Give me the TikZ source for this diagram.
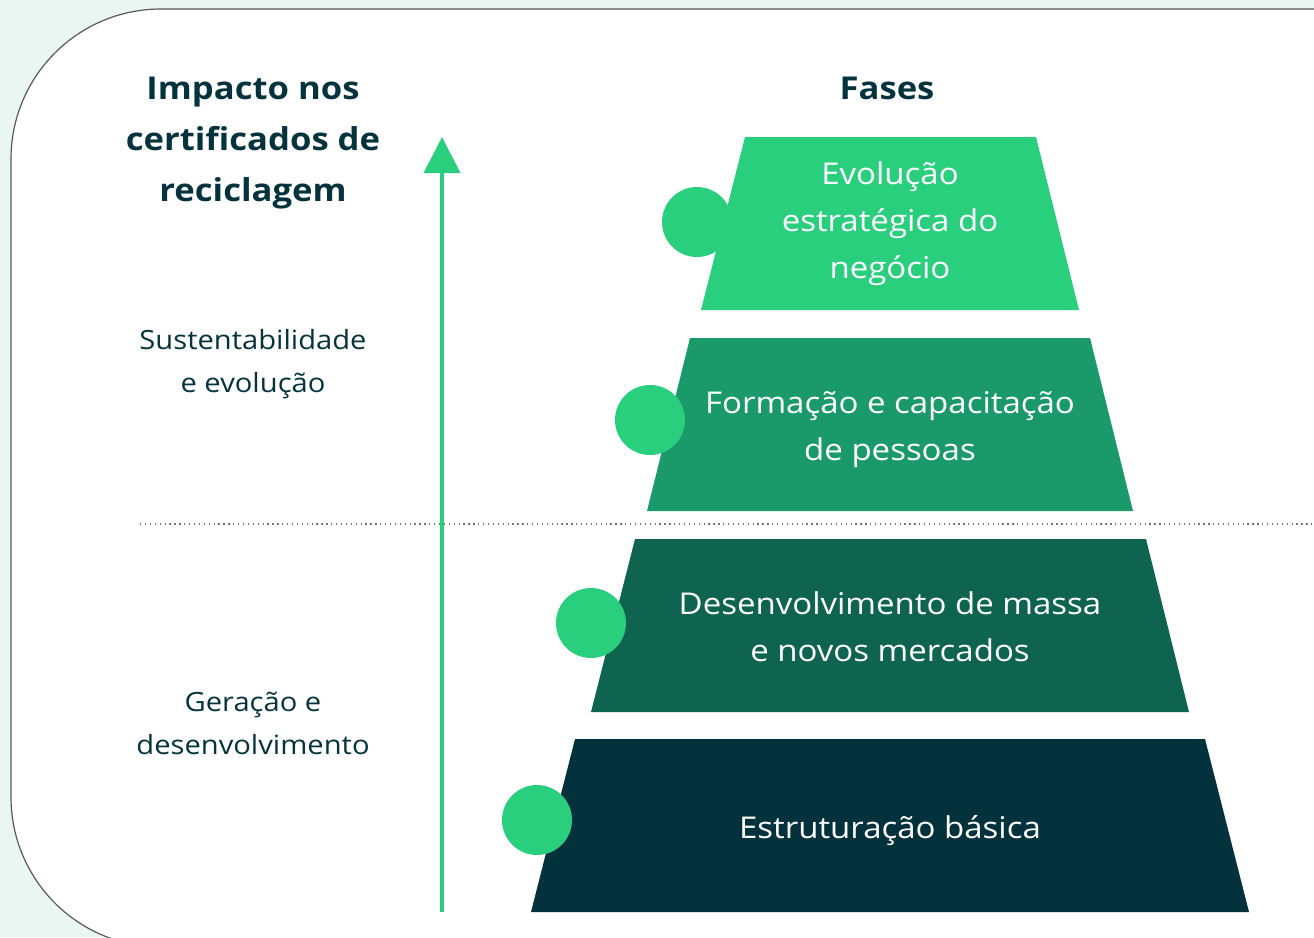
\documentclass[tikz,border=0pt]{standalone}
\usepackage{fontspec}
\setmainfont[FakeStretch=1.1]{Open Sans}
\usetikzlibrary{arrows.meta}

\definecolor{fundo}{HTML}{EAF6F1}
\definecolor{escuro}{HTML}{05333D}
\definecolor{fase1}{HTML}{2ACF7E}
\definecolor{fase2}{HTML}{1A9A6A}
\definecolor{fase3}{HTML}{0F6450}
\definecolor{fase4}{HTML}{03323D}

\tikzstyle{titulo} = [text=escuro, font=\fontsize{31.5}{51}\selectfont\bfseries, align=center]
\tikzstyle{impacto} = [text=escuro, font=\fontsize{26.5}{43}\selectfont, align=center]
\tikzstyle{fase} = [text=white, font=\fontsize{30}{47}\selectfont, align=center]
\tikzstyle{marca} = [circle, fill=fase1, minimum size=70pt, inner sep=0pt]

\begin{document}
\begin{tikzpicture}[x=1pt, y=-1pt]
\useasboundingbox (0,0) rectangle (1314,937);
\fill[fundo] (0,0) rectangle (1314,937);
% cartao branco
\filldraw[fill=white, draw=black!65, line width=1.2pt, rounded corners=150pt]
    (1340,9) -- (11,9) -- (11,947) -- (1340,947);

% titulos
\node[titulo] (impactotit) at (253,143) {Impacto nos\\certificados de\\reciclagem};
\node[titulo] (fasestit) at (887,88) {Fases};

% divisao
\coordinate (divesq) at (140,524);
\coordinate (divdir) at (1314,524);
\draw[black!55, line width=1.3pt, dash pattern=on 1.3pt off 3.6pt] (divesq) -- (divdir);

% eixo de impacto
\coordinate (eixobase) at (442,912);
\coordinate (eixotopo) at (442,137);
\draw[fase1, line width=4pt, -{Triangle[width=36pt,length=36pt]}] (eixobase) -- (eixotopo);

\node[impacto] (sustent) at (253,364) {Sustentabilidade\\e evolução};
\node[impacto] (geracao) at (253,723) {Geração e\\desenvolvimento};

% piramide de fases
\fill[fase1] (745,137) -- (1036,137) -- (1079,310) -- (701,310) -- cycle;
\fill[fase2] (690,338) -- (1090,338) -- (1133,511) -- (647,511) -- cycle;
\fill[fase3] (635,539) -- (1146,539) -- (1189,712) -- (591,712) -- cycle;
\fill[fase4] (575,739) -- (1205,739) -- (1249,912) -- (531,912) -- cycle;

\node[fase] (evolucao) at (890,224) {Evolução\\estratégica do\\negócio};
\node[fase] (formacao) at (890,430) {Formação e capacitação\\de pessoas};
\node[fase] (desenv) at (890,627) {Desenvolvimento de massa\\e novos mercados};
\node[fase] (estrut) at (890,831) {Estruturação básica};

\node[marca] (marca1) at (697,222) {};
\node[marca] (marca2) at (650,420) {};
\node[marca] (marca3) at (591,623) {};
\node[marca] (marca4) at (537,820) {};
\end{tikzpicture}
\end{document}
